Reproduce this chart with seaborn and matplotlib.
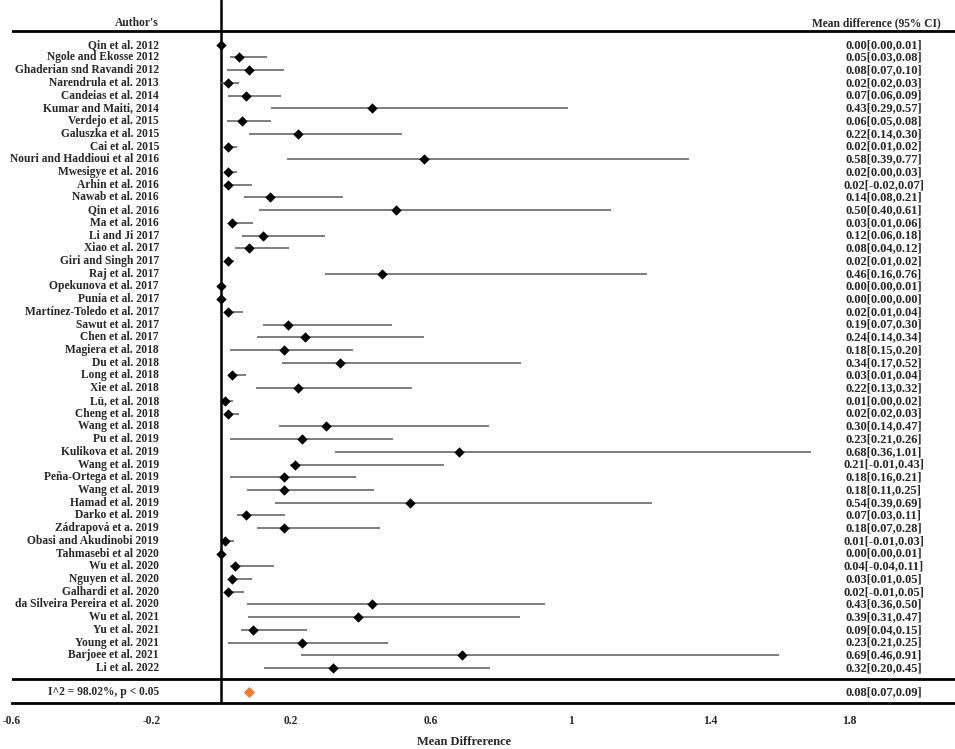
import matplotlib
matplotlib.use("Agg")
import matplotlib.pyplot as plt
import seaborn as sns
import pandas as pd

authors = ["Qin et al. 2012", "Ngole and Ekosse 2012", "Ghaderian snd Ravandi 2012",
           "Narendrula et al. 2013", "Candeias et al. 2014", "Kumar and Maiti, 2014",
           "Verdejo et al. 2015", "Galuszka et al. 2015", "Cai et al. 2015",
           "Nouri and Haddioui et al 2016", "Mwesigye et al. 2016", "Arhin et al. 2016",
           "Nawab et al. 2016", "Qin et al. 2016", "Ma et al. 2016", "Li and Ji 2017",
           "Xiao et al. 2017", "Giri and Singh 2017", "Raj et al. 2017",
           "Opekunova et al. 2017", "Punia et al. 2017", "Martínez-Toledo et al. 2017",
           "Sawut et al. 2017", "Chen et al. 2017", "Magiera et al. 2018", "Du et al. 2018",
           "Long et al. 2018", "Xie et al. 2018", "Lü, et al. 2018", "Cheng et al. 2018",
           "Wang et al. 2018", "Pu et al. 2019", "Kulikova et al. 2019", "Wang et al. 2019",
           "Peña-Ortega et al. 2019", "Wang et al. 2019", "Hamad et al. 2019",
           "Darko et al. 2019", "Zádrapová et a. 2019", "Obasi and Akudinobi 2019",
           "Tahmasebi et al 2020", "Wu et al. 2020", "Nguyen et al. 2020",
           "Galhardi et al. 2020", "da Silveira Pereira et al. 2020", "Wu et al. 2021",
           "Yu et al. 2021", "Young et al. 2021", "Barjoee et al. 2021", "Li et al. 2022"]

# values printed in the right column
md = [0.00, 0.05, 0.08, 0.02, 0.07, 0.43, 0.06, 0.22, 0.02, 0.58, 0.02, 0.02, 0.14, 0.50,
      0.03, 0.12, 0.08, 0.02, 0.46, 0.00, 0.00, 0.02, 0.19, 0.24, 0.18, 0.34, 0.03, 0.22,
      0.01, 0.02, 0.30, 0.23, 0.68, 0.21, 0.18, 0.18, 0.54, 0.07, 0.18, 0.01, 0.00, 0.04,
      0.03, 0.02, 0.43, 0.39, 0.09, 0.23, 0.69, 0.32]
ci_lo = [0.00, 0.03, 0.07, 0.02, 0.06, 0.29, 0.05, 0.14, 0.01, 0.39, 0.00, -0.02, 0.08, 0.40,
         0.01, 0.06, 0.04, 0.01, 0.16, 0.00, 0.00, 0.01, 0.07, 0.14, 0.15, 0.17, 0.01, 0.13,
         0.00, 0.02, 0.14, 0.21, 0.36, -0.01, 0.16, 0.11, 0.39, 0.03, 0.07, -0.01, 0.00, -0.04,
         0.01, -0.01, 0.36, 0.31, 0.04, 0.21, 0.46, 0.20]
ci_hi = [0.01, 0.08, 0.10, 0.03, 0.09, 0.57, 0.08, 0.30, 0.02, 0.77, 0.03, 0.07, 0.21, 0.61,
         0.06, 0.18, 0.12, 0.02, 0.76, 0.01, 0.00, 0.04, 0.30, 0.34, 0.20, 0.52, 0.04, 0.32,
         0.02, 0.03, 0.47, 0.26, 1.01, 0.43, 0.21, 0.25, 0.69, 0.11, 0.28, 0.03, 0.01, 0.11,
         0.05, 0.05, 0.50, 0.47, 0.15, 0.25, 0.91, 0.45]

# whisker extents as drawn in the figure
line_lo = [0.0, 0.024, 0.017, 0.0, 0.02, 0.141, 0.015, 0.079, 0.012, 0.189, 0.007, 0.012,
           0.064, 0.107, 0.022, 0.058, 0.04, 0.01, 0.298, 0.0, 0.0, 0.015, 0.119, 0.103,
           0.024, 0.174, 0.018, 0.099, 0.005, 0.015, 0.165, 0.026, 0.325, 0.196, 0.024,
           0.072, 0.153, 0.044, 0.103, 0.003, 0.0, 0.024, 0.021, 0.01, 0.072, 0.077, 0.057,
           0.018, 0.228, 0.123]
line_hi = [0.01, 0.13, 0.179, 0.051, 0.17, 0.994, 0.141, 0.516, 0.044, 1.34, 0.046, 0.088,
           0.347, 1.115, 0.091, 0.298, 0.193, 0.037, 1.218, 0.01, 0.0, 0.062, 0.489, 0.58,
           0.378, 0.859, 0.069, 0.547, 0.034, 0.051, 0.767, 0.491, 1.688, 0.638, 0.385,
           0.437, 1.233, 0.181, 0.453, 0.037, 0.01, 0.151, 0.087, 0.064, 0.927, 0.856, 0.244,
           0.476, 1.598, 0.769]

pooled_md, pooled_lo, pooled_hi = 0.08, 0.07, 0.09
het_text = "I^2 = 98.02%, p < 0.05"
xticks = [-0.6, -0.2, 0.2, 0.6, 1, 1.4, 1.8]

sns.set_style("white")
plt.rcParams['font.family'] = ['Liberation Serif', 'DejaVu Serif']
plt.rcParams['font.weight'] = 'bold'
fs = 8.3
fs_val = 9

df = pd.DataFrame({'author': authors, 'md': md, 'lo': line_lo, 'hi': line_hi})
df['row'] = range(len(df))
n = len(df)

fig = plt.figure(figsize=(9.55, 7.49), dpi=100)
ax = fig.add_axes([12 / 955, 46 / 749, 943 / 955, 703 / 749])

ax.hlines(df['row'], df['lo'], df['hi'], color='#5a5a5a', linewidth=1.1, zorder=2)
sns.scatterplot(data=df, x='md', y='row', marker='D', s=28, color='black',
                edgecolor='black', linewidth=0, ax=ax, zorder=3, legend=False)
sum_row = n + 0.9
ax.scatter([pooled_md], [sum_row], marker='D', s=22, color='#ED7D31', zorder=3)

ax.set_xlim(-0.6, 2.1017)
ax.set_ylim(n - 1 + 2.75, -3.52)

ax.axvline(0, color='black', linewidth=1.8, zorder=1)
ax.axhline(-1.06, color='black', linewidth=2)
ax.axhline(n - 0.1, color='black', linewidth=2)

lab_x = -0.179
val_x = 1.898
for i in range(n):
    ax.text(lab_x, i, authors[i], ha='right', va='center', fontsize=fs, fontweight='bold')
    ax.text(val_x, i, f"{md[i]:.2f}[{ci_lo[i]:.2f},{ci_hi[i]:.2f}]", ha='center',
            va='center', fontsize=fs_val, fontweight='bold')
ax.text(lab_x, sum_row, het_text, ha='right', va='center', fontsize=fs, fontweight='bold')
ax.text(val_x, sum_row, f"{pooled_md:.2f}[{pooled_lo:.2f},{pooled_hi:.2f}]", ha='center',
        va='center', fontsize=fs_val, fontweight='bold')
ax.text(lab_x, -1.7, "Author's", ha='right', va='center', fontsize=fs, fontweight='bold')
ax.text(2.06, -1.7, "Mean difference (95% CI)", ha='right', va='center', fontsize=fs,
        fontweight='bold')

ax.set_yticks([])
ax.set_ylabel("")
ax.set_xticks(xticks)
ax.set_xticklabels([f"{t:g}" for t in xticks], fontsize=fs, fontweight='bold')
ax.tick_params(axis='x', length=0, pad=9)
for side in ['top', 'left', 'right']:
    ax.spines[side].set_visible(False)
ax.spines['bottom'].set_linewidth(2)
ax.spines['bottom'].set_color('black')
ax.set_xlabel("Mean Diffrerence", fontsize=9, fontweight='bold')
ax.xaxis.set_label_coords((464 - 12) / 943, -33 / 703)

fig.savefig("out.png", dpi=100)
